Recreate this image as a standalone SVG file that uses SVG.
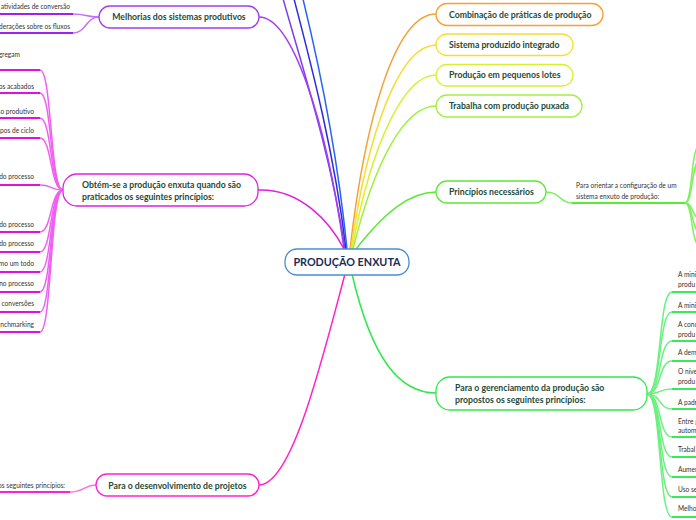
<svg xmlns="http://www.w3.org/2000/svg" width="696" height="520" viewBox="0 0 696 520">
<style>
.node{fill:#fff;stroke-width:1.3}
.nt{font-family:Lato,"Open Sans","Liberation Sans",sans-serif;font-weight:700;font-size:8.7px;fill:#1e4a38}
.ct{font-family:Lato,"Open Sans","Liberation Sans",sans-serif;font-weight:700;font-size:10.8px;fill:#1a2b55}
.st{font-family:Lato,"Open Sans","Liberation Sans",sans-serif;font-size:6.6px;fill:#333}
.c{fill:none;stroke-width:1.5}
.u{fill:none;stroke-width:1.8}
</style>
<rect width="696" height="520" fill="#fff"/>
<g id="connectors">
  <path class="c" stroke="#7b3ff2" d="M345 249 C330 150 300 60 282 -5"/>
  <path class="c" stroke="#2b2bd9" d="M346 249 C334 150 310 60 293 -5"/>
  <path class="c" stroke="#2a62f5" d="M347 249 C337 150 318 60 302 -5"/>
  <path class="c" stroke="#a43cf0" d="M259 17 C292 17 326 120 344 249"/>
  <path class="c" stroke="#e020e0" d="M258 190 C300 188 330 222 344 249"/>
  <path class="c" stroke="#ff22cc" d="M259 485 C292 485 322 360 345 274"/>
  <path class="c" stroke="#f5a030" d="M350 249 C365 120 395 14 436 14"/>
  <path class="c" stroke="#f8dc30" d="M351 249 C368 130 400 45 436 45"/>
  <path class="c" stroke="#d8f030" d="M352 249 C372 140 405 75 436 75"/>
  <path class="c" stroke="#a0f040" d="M353 249 C375 160 405 106 436 106"/>
  <path class="c" stroke="#5ee83a" d="M356 249 C385 212 410 192 436 192"/>
  <path class="c" stroke="#2ee84a" d="M352 274 C372 360 400 393 436 393"/>
  <path class="u" stroke="#a020f0" d="M-5 14 H73"/>
  <path class="u" stroke="#a020f0" d="M-5 33 H73"/>
  <path class="c" stroke="#c070f5" d="M73 14 C86 14 86 17 99 17"/>
  <path class="c" stroke="#c070f5" d="M73 33 C86 33 86 17 99 17"/>
  <g stroke="#e010e0" class="u">
    <path d="M-5 70 H40"/><path d="M-5 93 H40"/><path d="M-5 118 H40"/><path d="M-5 138 H40"/>
    <path d="M-5 185 H40"/><path d="M-5 232 H40"/><path d="M-5 252 H40"/><path d="M-5 272 H40"/>
    <path d="M-5 292 H40"/><path d="M-5 312 H40"/><path d="M-5 332 H40"/>
  </g>
  <g stroke="#f060f0" class="c" stroke-width="1.2">
    <path d="M40 70 C52 70 50 190 63 190"/><path d="M40 93 C52 93 50 190 63 190"/>
    <path d="M40 118 C52 118 50 190 63 190"/><path d="M40 138 C52 138 50 190 63 190"/>
    <path d="M40 185 C52 185 50 190 63 190"/><path d="M40 232 C52 232 50 190 63 190"/>
    <path d="M40 252 C52 252 50 190 63 190"/><path d="M40 272 C52 272 50 190 63 190"/>
    <path d="M40 292 C52 292 50 190 63 190"/><path d="M40 312 C52 312 50 190 63 190"/>
    <path d="M40 332 C52 332 50 190 63 190"/>
  </g>
  <path class="u" stroke="#ff22cc" d="M-5 492 H70"/>
  <path class="c" stroke="#ff70dd" d="M70 492 C84 492 84 485 96 485"/>
  <path class="c" stroke="#7ef060" d="M546 192 C560 192 560 203 572 203"/>
  <path class="u" stroke="#55ee33" d="M572 203 H685"/>
  <g stroke="#7ef060" class="c" stroke-width="1.2">
    <path d="M685 203 C693 203 690 150 700 143"/>
    <path d="M685 203 C693 203 691 165 700 158"/>
    <path d="M685 203 C693 203 691 215 700 220"/>
    <path d="M685 203 C693 203 691 228 700 234"/>
    <path d="M685 203 C693 203 690 240 700 248"/>
  </g>
  <g stroke="#22e844" class="u">
    <path d="M672 292 H700"/><path d="M672 312 H700"/><path d="M672 341 H700"/><path d="M672 361 H700"/>
    <path d="M672 389 H700"/><path d="M672 409 H700"/><path d="M672 437 H700"/><path d="M672 457 H700"/>
    <path d="M672 477 H700"/><path d="M672 497 H700"/><path d="M672 517 H700"/>
  </g>
  <g stroke="#6cf080" class="c" stroke-width="1.2">
    <path d="M647 394 C662 394 658 292 672 292"/><path d="M647 394 C662 394 658 312 672 312"/>
    <path d="M647 394 C662 394 658 341 672 341"/><path d="M647 394 C662 394 658 361 672 361"/>
    <path d="M647 394 C662 394 658 389 672 389"/><path d="M647 394 C662 394 658 409 672 409"/>
    <path d="M647 394 C662 394 658 437 672 437"/><path d="M647 394 C662 394 658 457 672 457"/>
    <path d="M647 394 C662 394 658 477 672 477"/><path d="M647 394 C662 394 658 497 672 497"/>
    <path d="M647 394 C662 394 658 517 672 517"/>
  </g>
</g>

<g id="center">
  <rect class="node" x="285" y="249" width="124" height="26" rx="12" stroke="#4a8ed0"/>
  <text class="ct" x="347" y="266" text-anchor="middle">PRODUÇÃO ENXUTA</text>
</g>

<g id="melhorias">
  <rect class="node" x="99" y="6" width="160" height="22" rx="11" stroke="#a43cf0"/>
  <text class="nt" x="179" y="20" text-anchor="middle">Melhorias dos sistemas produtivos</text>
</g>
<g id="melhorias-children">
  <text class="st" x="70" y="9" text-anchor="end">s atividades de conversão</text>
  <text class="st" x="70" y="29" text-anchor="end">derações sobre os fluxos</text>
</g>

<g id="obtem">
  <rect class="node" x="63" y="174" width="195" height="32" rx="14" stroke="#e020e0"/>
  <text class="nt" x="82" y="188">Obtém-se a produção enxuta quando são</text>
  <text class="nt" x="82" y="200">praticados os seguintes princípios:</text>
</g>
<g id="obtem-children">
  <text class="st" x="20" y="57" text-anchor="end">gregam</text>
  <text class="st" x="34" y="89" text-anchor="end">os acabados</text>
  <text class="st" x="34" y="114" text-anchor="end">so produtivo</text>
  <text class="st" x="34" y="133" text-anchor="end">mpos de ciclo</text>
  <text class="st" x="34" y="179" text-anchor="end">do processo</text>
  <text class="st" x="34" y="227" text-anchor="end">do processo</text>
  <text class="st" x="34" y="246" text-anchor="end">do processo</text>
  <text class="st" x="34" y="266" text-anchor="end">mo um todo</text>
  <text class="st" x="34" y="286" text-anchor="end">no processo</text>
  <text class="st" x="34" y="306" text-anchor="end">conversões</text>
  <text class="st" x="34" y="327" text-anchor="end">nchmarking</text>
</g>

<g id="desenvolvimento">
  <rect class="node" x="96" y="474" width="163" height="22" rx="11" stroke="#ff22cc"/>
  <text class="nt" x="177.5" y="488.5" text-anchor="middle">Para o desenvolvimento de projetos</text>
  <text class="st" x="65" y="488" text-anchor="end">os seguintes princípios:</text>
</g>

<g id="combinacao">
  <rect class="node" x="436" y="3.5" width="167" height="22" rx="11" stroke="#f5a030"/>
  <text class="nt" x="449" y="17.5">Combinação de práticas de produção</text>
</g>
<g id="sistema">
  <rect class="node" x="436" y="34" width="137" height="21.5" rx="11" stroke="#f8dc30"/>
  <text class="nt" x="449" y="47.8">Sistema produzido integrado</text>
</g>
<g id="producao">
  <rect class="node" x="436" y="64.5" width="137" height="21.5" rx="11" stroke="#d8f030"/>
  <text class="nt" x="449" y="78.3">Produção em pequenos lotes</text>
</g>
<g id="trabalha">
  <rect class="node" x="436" y="95" width="146" height="22" rx="11" stroke="#a0f040"/>
  <text class="nt" x="449" y="109">Trabalha com produção puxada</text>
</g>
<g id="principios">
  <rect class="node" x="436" y="181" width="110" height="22" rx="11" stroke="#5ee83a"/>
  <text class="nt" x="449" y="195">Princípios necessários</text>
  <text class="st" x="576" y="188">Para orientar a configuração de um</text>
  <text class="st" x="576" y="199">sistema enxuto de produção:</text>
</g>
<g id="gerenciamento">
  <rect class="node" x="436" y="377" width="211" height="33" rx="14" stroke="#2ee84a"/>
  <text class="nt" x="455" y="391">Para o gerenciamento da produção são</text>
  <text class="nt" x="455" y="403">propostos os seguintes princípios:</text>
</g>
<g id="gerenciamento-children">
  <text class="st" x="678" y="277">A minimi</text>
  <text class="st" x="678" y="287">produ</text>
  <text class="st" x="678" y="308">A minimi</text>
  <text class="st" x="678" y="327">A conc</text>
  <text class="st" x="678" y="337">produ</text>
  <text class="st" x="678" y="355">A dem</text>
  <text class="st" x="678" y="374">O nível</text>
  <text class="st" x="678" y="384">produ</text>
  <text class="st" x="678" y="405">A padr</text>
  <text class="st" x="678" y="424">Entre g</text>
  <text class="st" x="678" y="433">autom</text>
  <text class="st" x="678" y="452">Trabal</text>
  <text class="st" x="678" y="472">Aumen</text>
  <text class="st" x="678" y="492">Uso se</text>
  <text class="st" x="678" y="511">Melho</text>
</g>
</svg>
